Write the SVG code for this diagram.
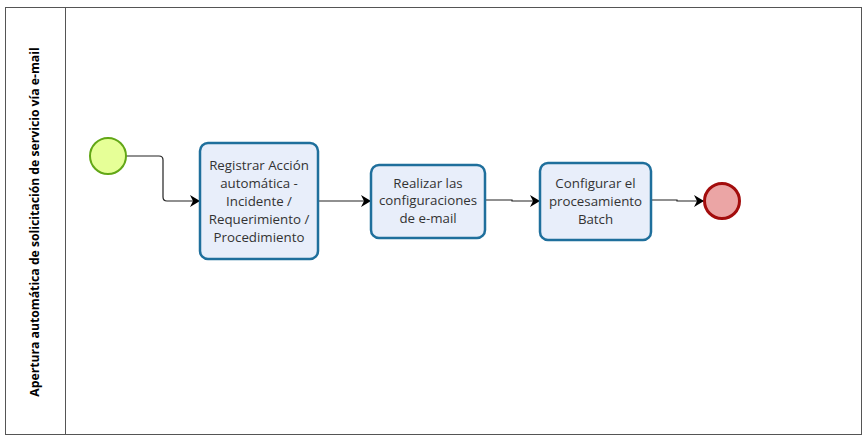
<svg xmlns="http://www.w3.org/2000/svg" width="867" height="438" viewBox="0 0 867 438">
<defs>
<marker id="arr" viewBox="0 0 10 12" refX="10" refY="6" markerWidth="10" markerHeight="12" markerUnits="userSpaceOnUse" orient="auto">
<path d="M0,0 L10,6 L0,12 L3,6 Z" fill="#000"/>
</marker>
</defs>
<style>
.task{fill:#e8eefa;stroke:#1f6f9c;stroke-width:2.5}
.txt{font-family:"Open Sans","Noto Sans",sans-serif;font-size:13.3px;fill:#333;text-anchor:middle}
.conn{fill:none;stroke:#222;stroke-width:1.2}
</style>
<rect width="867" height="438" fill="#fff"/>
<g id="pool">
<rect x="5.5" y="7.5" width="856" height="427" fill="#fff" stroke="#555" stroke-width="1"/>
<line x1="65.5" y1="7.5" x2="65.5" y2="434.5" stroke="#555" stroke-width="1"/>
<text x="0" y="0" transform="translate(39,222) rotate(-90)" style="font-family:'Open Sans','Noto Sans',sans-serif;font-size:12.2px;font-weight:bold;fill:#000;text-anchor:middle">Apertura automática de solicitación de servicio vía e-mail</text>
</g>
<g id="connectors">
<path class="conn" d="M126,156 H159 Q163,156 163,160 V197 Q163,201 167,201 H200" marker-end="url(#arr)"/>
<path class="conn" d="M318,201 H371" marker-end="url(#arr)"/>
<path class="conn" d="M485,200 H512 V201 H540" marker-end="url(#arr)"/>
<path class="conn" d="M651,200 H677 V201 H704" marker-end="url(#arr)"/>
</g>
<g id="start">
<circle cx="108" cy="156" r="18" fill="#e6ff97" stroke="#62a716" stroke-width="2"/>
</g>
<g id="task1">
<rect class="task" x="200" y="143" width="118" height="116" rx="8"/>
<text class="txt" x="259" y="170">Registrar Acción</text>
<text class="txt" x="259" y="188">automática -</text>
<text class="txt" x="259" y="206">Incidente /</text>
<text class="txt" x="259" y="224">Requerimiento /</text>
<text class="txt" x="259" y="242">Procedimiento</text>
</g>
<g id="task2">
<rect class="task" x="371" y="165" width="114" height="73" rx="8"/>
<text class="txt" x="428" y="188">Realizar las</text>
<text class="txt" x="428" y="205">configuraciones</text>
<text class="txt" x="428" y="223">de e-mail</text>
</g>
<g id="task3">
<rect class="task" x="540" y="163" width="111" height="77" rx="8"/>
<text class="txt" x="595.5" y="188">Configurar el</text>
<text class="txt" x="595.5" y="206">procesamiento</text>
<text class="txt" x="595.5" y="224">Batch</text>
</g>
<g id="end">
<circle cx="722" cy="201" r="17.5" fill="#eba5a5" stroke="#a30d0d" stroke-width="3"/>
</g>
</svg>
